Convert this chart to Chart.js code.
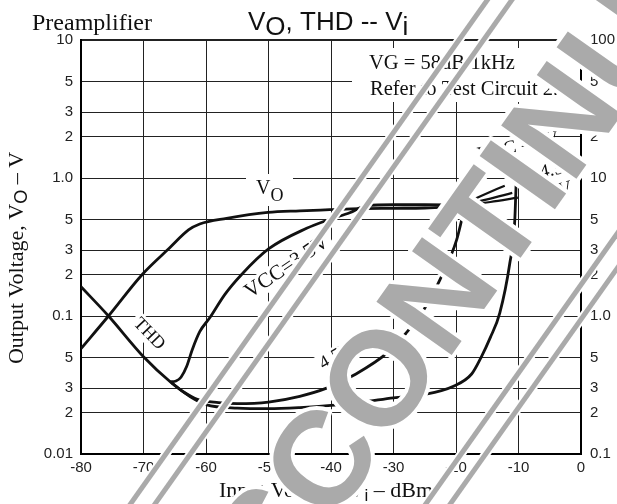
<!DOCTYPE html>
<html>
<head>
<meta charset="utf-8">
<script src="https://cdn.jsdelivr.net/npm/chart.js@4.4.0/dist/chart.umd.min.js"></script>
<style>
  html, body { margin: 0; padding: 0; background: #fff; }
</style>
</head>
<body>
<canvas id="chart" width="617" height="504"></canvas>
<script>
// --- data ---
// input level (dBm) / output voltage (V), left axis
const voMainDbm = [-80, -75.6, -70.2, -65.8, -62.8, -61, -56.7, -50.1, -45, -40.2, -35.4, -30, -25, -19.4];
const voMainV   = [0.058, 0.1, 0.2, 0.312, 0.42, 0.464, 0.51, 0.563, 0.578, 0.589, 0.6, 0.603, 0.606, 0.62];

const vo35Dbm = [-65.8, -64.8, -64.0, -63.1, -62.2, -61, -59.4, -57, -54.3, -50, -43.9, -40.2, -37, -34.3, -30, -25, -19.4];
const vo35V   = [0.0333, 0.0338, 0.036, 0.043, 0.057, 0.077, 0.097, 0.143, 0.2, 0.306, 0.432, 0.502, 0.56, 0.63, 0.64, 0.64, 0.637];

// the fan of curves leaving the limiting level (VCC = 6V ... 3.5V)
const fanADbm = [-19.4, -17.8, -16.2];  const fanAV = [0.63, 0.78, 0.97];
const fanBDbm = [-19.4, -16, -12.2];    const fanBV = [0.63, 0.74, 0.88];
const fanCDbm = [-19.4, -15, -11.0];    const fanCV = [0.63, 0.70, 0.78];
const fanDDbm = [-19.4, -14.5, -10.1];  const fanDV = [0.63, 0.67, 0.72];

// THD (%), right axis
const thd6Dbm = [-80, -75.6, -70, -65.5, -62.5, -60, -55, -50, -45, -40, -35, -30, -25, -20.4, -17.5, -16, -14.5, -13, -11.4, -10.6, -10.3];
const thd6Pct = [1.63, 1.0, 0.507, 0.327, 0.26, 0.228, 0.215, 0.213, 0.217, 0.225, 0.238, 0.255, 0.27, 0.31, 0.38, 0.5, 0.7, 1.05, 2.4, 4.9, 11.8];

const thd45Dbm = [-65.5, -63.5, -61.5, -58, -55, -50, -45, -40.7, -36, -31, -28, -25.2, -22.6, -19.9, -18.6];
const thd45Pct = [0.327, 0.28, 0.25, 0.236, 0.232, 0.238, 0.262, 0.3, 0.38, 0.54, 0.75, 1.1, 1.82, 3.56, 6.2];

// tick labels
const voTicks = [0.01, 0.02, 0.03, 0.05, 0.1, 0.2, 0.3, 0.5, 1, 2, 3, 5, 10];
const voTickLabels = ['0.01', '2', '3', '5', '0.1', '2', '3', '5', '1.0', '2', '3', '5', '10'];
const thdTicks = [0.1, 0.2, 0.3, 0.5, 1, 2, 3, 5, 10, 20, 30, 50, 100];
const thdTickLabels = ['0.1', '2', '3', '5', '1.0', '2', '3', '5', '10', '2', '3', '5', '100'];

const SANS = '"Liberation Sans", Arial, sans-serif';
const SERIF = '"Liberation Serif", "Times New Roman", serif';

function pts(xs, ys) {
  return xs.map((x, i) => ({ x: x, y: ys[i] }));
}

// draw a row of text pieces (for subscripts), optionally rotated
function runs(ctx, items, x, y, angle, align) {
  ctx.save();
  ctx.translate(x, y);
  ctx.rotate((angle || 0) * Math.PI / 180);
  let w = 0;
  items.forEach((it) => { ctx.font = it.f; w += ctx.measureText(it.t).width; });
  let cx = align === 'center' ? -w / 2 : (align === 'right' ? -w : 0);
  items.forEach((it) => {
    ctx.font = it.f;
    ctx.fillText(it.t, cx, it.dy || 0);
    cx += ctx.measureText(it.t).width;
  });
  ctx.restore();
}

function whiteBox(ctx, x, y, w, h, angle) {
  ctx.save();
  ctx.fillStyle = '#fff';
  if (angle) {
    ctx.translate(x, y);
    ctx.rotate(angle * Math.PI / 180);
    ctx.fillRect(-w / 2, -h / 2, w, h);
  } else {
    ctx.fillRect(x, y, w, h);
  }
  ctx.restore();
}

const labelPlugin = {
  id: 'labels',
  beforeDatasetsDraw(chart) {
    const ctx = chart.ctx;
    ctx.save();
    // gaps in the grid behind the notes
    whiteBox(ctx, 352, 48, 226, 54);
    whiteBox(ctx, 246, 174, 47, 32);
    whiteBox(ctx, 149, 334, 44, 20, 46);
    whiteBox(ctx, 287, 267, 104, 22, -34);
    whiteBox(ctx, 337, 356, 44, 20, -30);
    whiteBox(ctx, 418, 374, 30, 20, -25);
    whiteBox(ctx, 487, 138, 88, 31);
    whiteBox(ctx, 522, 169, 53, 34);

    ctx.fillStyle = '#111';
    ctx.textBaseline = 'alphabetic';
    runs(ctx, [{ t: 'VG = 58dB/1kHz', f: '20.5px ' + SERIF }], 369, 69, 0);
    runs(ctx, [{ t: 'Refer to Test Circuit 2.', f: '20.5px ' + SERIF }], 370, 95, 0);
    runs(ctx, [{ t: 'V', f: '20px ' + SERIF }, { t: 'O', f: '18px ' + SERIF, dy: 7 }], 256, 194, 0);

    ctx.textBaseline = 'middle';
    runs(ctx, [{ t: 'THD', f: '18px ' + SERIF }], 149, 334, 46, 'center');
    runs(ctx, [{ t: 'VCC=3.5V', f: '21px ' + SERIF }], 287, 267, -34, 'center');
    runs(ctx, [{ t: '4.5V', f: '19px ' + SERIF }], 337, 356, -30, 'center');
    runs(ctx, [{ t: '6V', f: '19px ' + SERIF }], 418, 374, -25, 'center');
    ctx.textBaseline = 'alphabetic';
    runs(ctx, [{ t: 'VCC = 6V', f: '19px ' + SERIF }], 479, 160, -12);
    runs(ctx, [{ t: '4.5V', f: '19px ' + SERIF }], 541, 178, -12);
    runs(ctx, [{ t: '3.5V', f: '19px ' + SERIF }], 537, 202, -15);
    ctx.restore();
  },
  afterDraw(chart) {
    const ctx = chart.ctx;
    ctx.save();
    ctx.fillStyle = '#111';
    ctx.textBaseline = 'alphabetic';
    runs(ctx, [{ t: 'Preamplifier', f: '24px ' + SERIF }], 32, 30, 0);
    runs(ctx, [
      { t: 'V', f: '26px ' + SANS },
      { t: 'O', f: '26px ' + SANS, dy: 5 },
      { t: ', THD -- V', f: '26px ' + SANS },
      { t: 'i', f: '26px ' + SANS, dy: 5 }
    ], 248, 30, 0);
    runs(ctx, [
      { t: 'Output Voltage, V', f: '22px ' + SERIF },
      { t: 'O', f: '18px ' + SANS, dy: 4 },
      { t: ' \u2013 V', f: '22px ' + SERIF }
    ], 23, 258, -90, 'center');
    runs(ctx, [
      { t: 'Input Voltage, V', f: '22px ' + SERIF },
      { t: 'i', f: '17px ' + SANS, dy: 4 },
      { t: ' \u2013 dBm', f: '22px ' + SERIF }
    ], 326, 497, 0, 'center');
    ctx.restore();
  }
};

// "DISCONTINUED" stamp lying over the graph
const stampPlugin = {
  id: 'stamp',
  afterDraw(chart) {
    const ctx = chart.ctx;
    ctx.save();
    ctx.translate(456, 264);
    ctx.rotate(-54.7 * Math.PI / 180);
    const rules = [-127, -107, 114, 134];
    rules.forEach((o) => {
      ctx.beginPath(); ctx.moveTo(-900, o); ctx.lineTo(900, o);
      ctx.strokeStyle = '#fff'; ctx.lineWidth = 9; ctx.stroke();
    });
    rules.forEach((o) => {
      ctx.beginPath(); ctx.moveTo(-900, o); ctx.lineTo(900, o);
      ctx.strokeStyle = '#aaa'; ctx.lineWidth = 5; ctx.stroke();
    });
    ctx.font = 'bold 134px ' + SANS;
    ctx.textAlign = 'center';
    ctx.textBaseline = 'alphabetic';
    ctx.lineJoin = 'round';
    ctx.strokeStyle = '#fff';
    ctx.lineWidth = 8;
    ctx.strokeText('DISCONTINUED', 0, 49);
    ctx.fillStyle = '#aaa';
    ctx.fillText('DISCONTINUED', 0, 49);
    ctx.restore();
  }
};

function line(data, axis, width) {
  return {
    data: data,
    yAxisID: axis,
    borderColor: '#111',
    borderWidth: width || 2.8,
    pointRadius: 0,
    fill: false,
    cubicInterpolationMode: 'monotone'
  };
}

const tickFont = { family: SANS, size: 15 };

new Chart(document.getElementById('chart').getContext('2d'), {
  type: 'line',
  data: {
    datasets: [
      line(pts(voMainDbm, voMainV), 'y'),
      line(pts(vo35Dbm, vo35V), 'y'),
      line(pts(fanADbm, fanAV), 'y', 2.2),
      line(pts(fanBDbm, fanBV), 'y', 2.2),
      line(pts(fanCDbm, fanCV), 'y', 2.2),
      line(pts(fanDDbm, fanDV), 'y', 2.2),
      line(pts(thd6Dbm, thd6Pct), 'y1'),
      line(pts(thd45Dbm, thd45Pct), 'y1')
    ]
  },
  options: {
    responsive: false,
    animation: false,
    layout: { padding: { top: 40, left: 0, right: 0, bottom: 0 } },
    plugins: { legend: { display: false }, tooltip: { enabled: false } },
    scales: {
      x: {
        type: 'linear', min: -80, max: 0,
        ticks: { stepSize: 10, font: tickFont, color: '#222', padding: 5, maxRotation: 0 },
        grid: {
          color: '#222', drawTicks: false,
          lineWidth: (c) => (c.tick && (c.tick.value === -80 || c.tick.value === 0)) ? 2 : 1
        },
        border: { display: true, color: '#000', width: 2 },
        afterFit: (s) => { s.height = 50; }
      },
      y: {
        type: 'logarithmic', position: 'left', min: 0.01, max: 10,
        afterBuildTicks: (s) => { s.ticks = voTicks.map((v) => ({ value: v })); },
        ticks: { callback: (v, i) => voTickLabels[i], font: tickFont, color: '#222', padding: 8, autoSkip: false },
        grid: {
          color: '#222', drawTicks: false,
          lineWidth: (c) => (c.tick && c.tick.value === 10) ? 2 : 1
        },
        border: { display: true, color: '#000', width: 2 },
        afterFit: (s) => { s.width = 81; }
      },
      y1: {
        type: 'logarithmic', position: 'right', min: 0.1, max: 100,
        afterBuildTicks: (s) => { s.ticks = thdTicks.map((v) => ({ value: v })); },
        ticks: { callback: (v, i) => thdTickLabels[i], font: tickFont, color: '#222', padding: 9, autoSkip: false },
        grid: { display: false, drawTicks: false },
        border: { display: true, color: '#000', width: 2 },
        afterFit: (s) => { s.width = 36; }
      }
    }
  },
  plugins: [labelPlugin, stampPlugin]
});
</script>
</body>
</html>
